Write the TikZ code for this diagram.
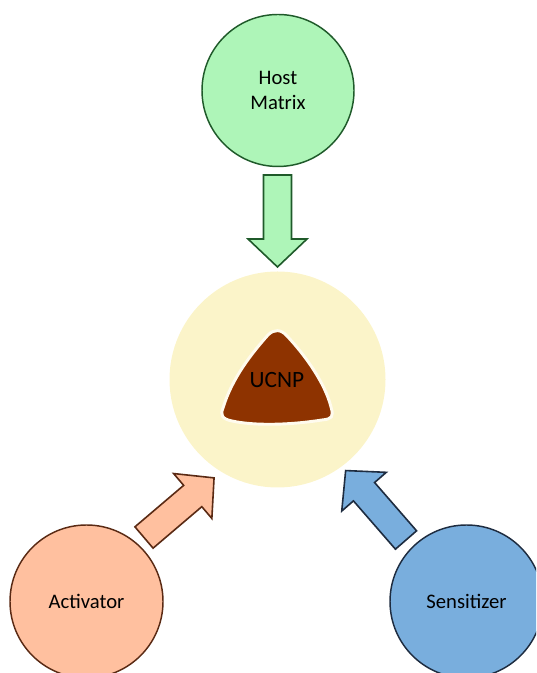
\documentclass[tikz,border=0pt]{standalone}
\usepackage{fontspec}
\setmainfont{Carlito}
\definecolor{hostfill}{HTML}{AEF5B8}
\definecolor{hostline}{HTML}{1F5A2A}
\definecolor{shellfill}{HTML}{FBF4C9}
\definecolor{corefill}{HTML}{8E3300}
\definecolor{coreline}{HTML}{FFFBEE}
\definecolor{actfill}{HTML}{FFC09F}
\definecolor{actline}{HTML}{5A2A14}
\definecolor{sensfill}{HTML}{79AEDD}
\definecolor{sensline}{HTML}{1E2C40}
\tikzset{
  labeltext/.style={font=\fontsize{15.5}{18.75}\selectfont, text=black, align=center},
  bubble/.style={circle, inner sep=0pt, minimum size=114pt, line width=1.1pt, labeltext},
  % block arrow drawn along +x from its tail centre
  blockarrow/.pic={\path[pic actions] (0,-14) -- (64,-14) -- (64,-29.5) -- (92,0)
      -- (64,29.5) -- (64,14) -- (0,14) -- cycle;},
}
\begin{document}
\begin{tikzpicture}[x=0.75pt,y=0.75pt]
\useasboundingbox (0,0) rectangle (536,673);
\clip (0,0) rectangle (536,673);

% shell with the nanoparticle core
\node[circle, fill=shellfill, inner sep=0pt, minimum size=162pt] (shell) at (277.5,293.5) {};
\path[fill=corefill, draw=coreline, line width=2.2pt]
  (268,338) .. controls (274,344) and (281,344) .. (287,337)
  .. controls (305,318) and (325,290) .. (331,266)
  .. controls (334,256) and (332,254) .. (322,253)
  .. controls (290,248) and (255,247) .. (232,252)
  .. controls (222,254) and (220,258) .. (223,265)
  .. controls (232,295) and (252,320) .. (268,338) -- cycle;
\node[font=\fontsize{17.5}{20}\selectfont, text=black, inner sep=0pt] (ucnp) at (277,293) {UCNP};

% the three components
\node[bubble, fill=hostfill, draw=hostline] (host) at (278,582.5) {Host\\Matrix};
\node[bubble, fill=actfill, draw=actline, minimum size=114.75pt] (act) at (86.5,71.5) {Activator};
\node[bubble, fill=sensfill, draw=sensline, minimum size=114.75pt] (sens) at (466.5,71.5) {Sensitizer};

% block arrows towards the shell
\pic[fill=hostfill, draw=hostline, line width=1.2pt, rotate=-90] at (277.5,498) {blockarrow};
\pic[fill=actfill, draw=actline, line width=1.2pt, rotate=40.4] at (144,135.5) {blockarrow};
\pic[fill=sensfill, draw=sensline, line width=1.2pt, rotate=131] at (406,133) {blockarrow};
\end{tikzpicture}
\end{document}
